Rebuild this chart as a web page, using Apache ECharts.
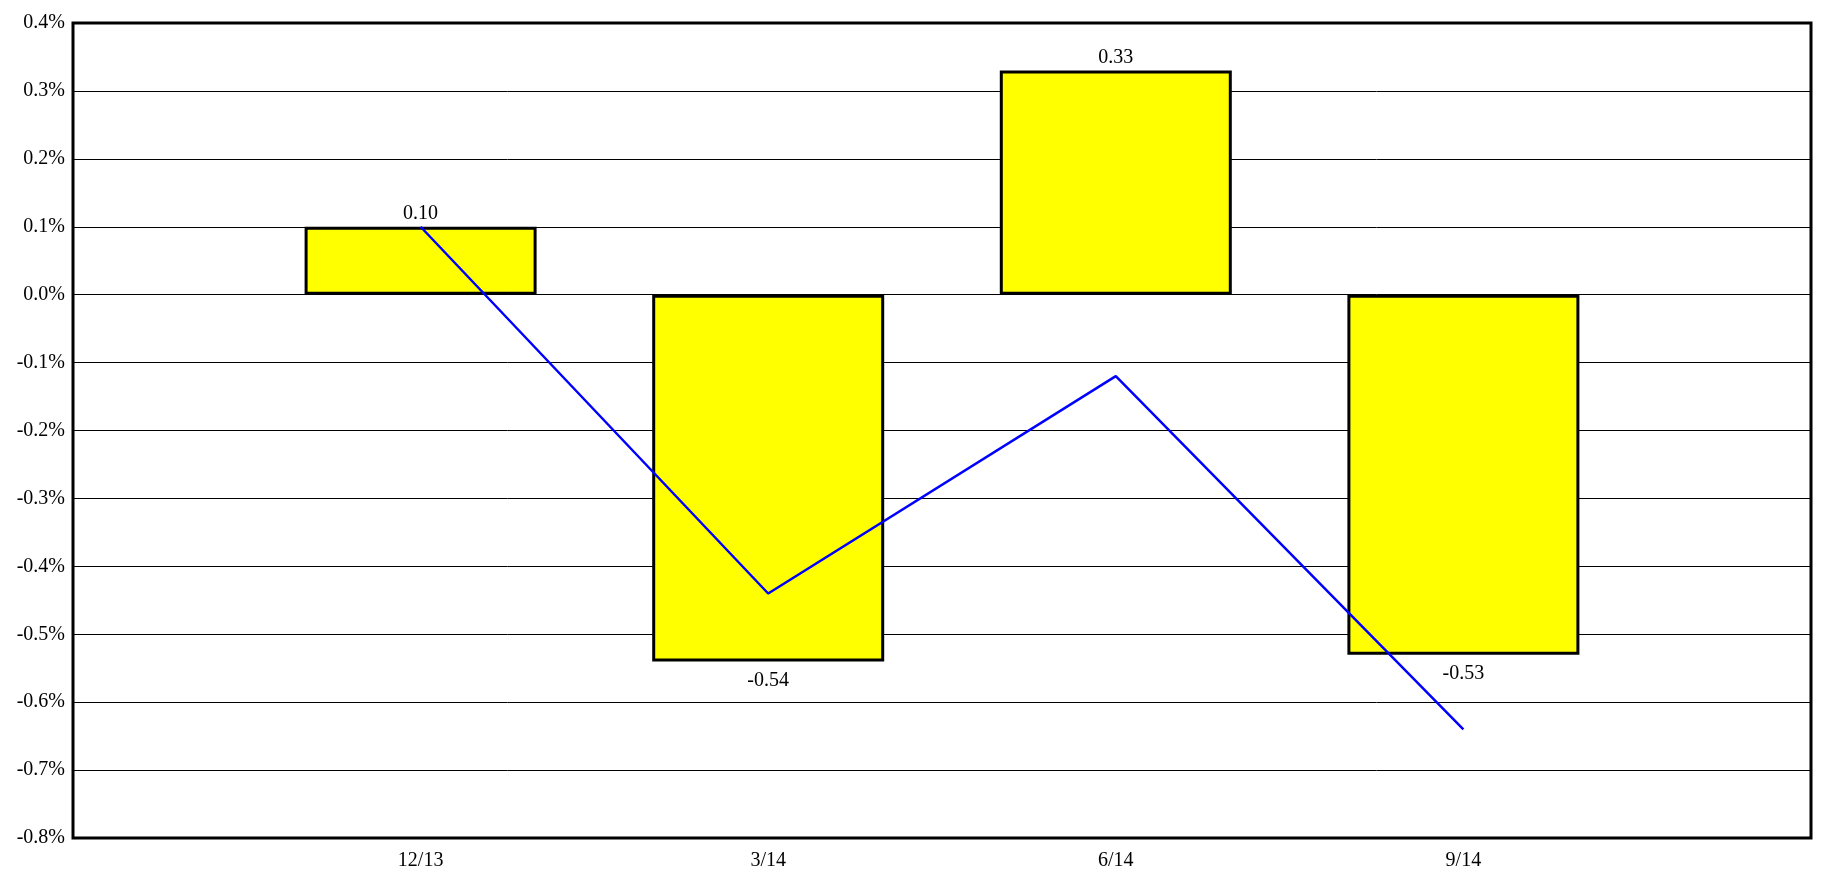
<!DOCTYPE html>
<html>
<head>
<meta charset="utf-8">
<script src="https://cdn.jsdelivr.net/npm/echarts@6/dist/echarts.min.js"></script>
<style>html,body{margin:0;padding:0;background:#fff}#c{width:1822px;height:875px}</style>
</head>
<body>
<div id="c"></div>
<script>
const categories = ['', '12/13', '3/14', '6/14', '9/14', ''];
const barValues = [null, 0.10, -0.54, 0.33, -0.53, null];
const lineValues = [null, 0.10, -0.44, -0.12, -0.64, null];
const yTicks = { min: -0.8, max: 0.4, interval: 0.1 };

const font = '"Liberation Serif", "Times New Roman", serif';
const barData = barValues.map(v => v === null ? null : {
  value: v,
  label: { position: v >= 0 ? 'top' : 'bottom', distance: v >= 0 ? 3 : 9 }
});

const chart = echarts.init(document.getElementById('c'), null, { renderer: 'canvas' });
chart.setOption({
  animation: false,
  backgroundColor: '#fff',
  grid: { left: 73, right: 11, top: 23, bottom: 37, show: true, borderColor: '#000', borderWidth: 3, backgroundColor: 'transparent' },
  xAxis: {
    type: 'category',
    data: categories,
    boundaryGap: false,
    axisLine: { show: false },
    axisTick: { show: false },
    splitLine: { show: false },
    axisLabel: { color: '#000', fontFamily: font, fontSize: 20, margin: 13, interval: 0 }
  },
  yAxis: {
    type: 'value',
    min: yTicks.min, max: yTicks.max, interval: yTicks.interval,
    axisLine: { show: false },
    axisTick: { show: false },
    splitLine: { show: true, lineStyle: { color: '#000', width: 1 } },
    axisLabel: { color: '#000', fontFamily: font, fontSize: 20, margin: 8,
      formatter: v => (Math.abs(v) < 1e-9 ? 0 : v).toFixed(1) + '%' }
  },
  series: [
    {
      type: 'bar',
      data: barData,
      barWidth: 232,
      itemStyle: { color: '#ffff00', borderColor: '#000', borderWidth: 3 },
      label: { show: true, color: '#000', fontFamily: font, fontSize: 20, formatter: p => p.value.toFixed(2) },
      z: 2
    },
    {
      type: 'line',
      data: lineValues,
      symbol: 'none',
      lineStyle: { color: '#0000ff', width: 2.5 },
      z: 3
    }
  ]
});
</script>
</body>
</html>
